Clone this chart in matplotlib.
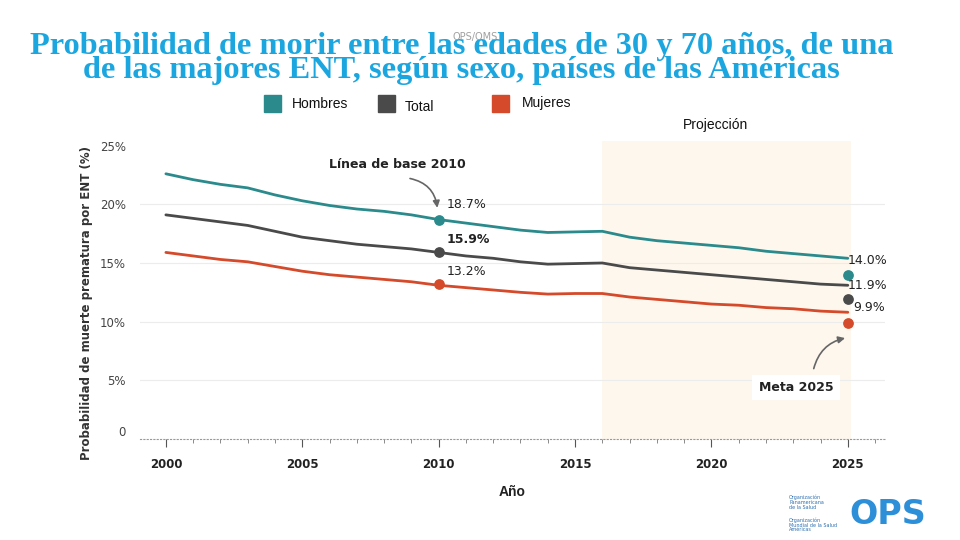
import numpy as np
import matplotlib
matplotlib.use('Agg')
import matplotlib.pyplot as plt
from matplotlib.patches import Rectangle
from matplotlib.ticker import MultipleLocator


# Data
years = list(range(2000, 2026))
hombres = [22.6, 22.1, 21.7, 21.4, 20.8, 20.3, 19.9, 19.6, 19.4, 19.1, 18.7, 18.4, 18.1,
           17.8, 17.6, 17.65, 17.7, 17.2, 16.9, 16.7, 16.5, 16.3, 16.0, 15.8, 15.6, 15.4]
total = [19.1, 18.8, 18.5, 18.2, 17.7, 17.2, 16.9, 16.6, 16.4, 16.2, 15.9, 15.6, 15.4,
         15.1, 14.9, 14.95, 15.0, 14.6, 14.4, 14.2, 14.0, 13.8, 13.6, 13.4, 13.2, 13.1]
mujeres = [15.9, 15.6, 15.3, 15.1, 14.7, 14.3, 14.0, 13.8, 13.6, 13.4, 13.1, 12.9, 12.7,
           12.5, 12.35, 12.4, 12.4, 12.1, 11.9, 11.7, 11.5, 11.4, 11.2, 11.1, 10.9, 10.8]

base_year = 2010
base_vals = [18.7, 15.9, 13.2]      # hombres, total, mujeres
meta_year = 2025
meta_vals = [14.0, 11.9, 9.9]
proj_start, proj_end = 2016, 2025.1

series_names = ['Hombres', 'Total', 'Mujeres']
colors = ['#2b8a8c', '#4a4a4a', '#d44a2a']

narrow = ['Liberation Sans Narrow', 'Liberation Sans']

# Figure
fig = plt.figure(figsize=(9.6, 5.4), dpi=100)
fig.patch.set_facecolor('white')
ax = fig.add_axes([0.1458, 0.187, 0.776, 0.552])

ax.axvspan(proj_start, proj_end, color='#fdf7ee', zorder=0, lw=0)

for vals, c in zip([hombres, total, mujeres], colors):
    ax.plot(years, vals, color=c, lw=2, zorder=3, solid_capstyle='round')

# baseline dots and target dots
for v, c in zip(base_vals, colors):
    ax.scatter([base_year], [v], s=45, color=c, zorder=4)
for v, c in zip(meta_vals, colors):
    ax.scatter([meta_year], [v], s=45, color=c, zorder=4)

# value labels
base_offsets = [1.3, 1.1, 1.1]
for v, off, w in zip(base_vals, base_offsets, ['normal', 'bold', 'normal']):
    ax.text(base_year + 0.3, v + off, f'{v:.1f}%', fontsize=9, color='#222',
            fontweight=w, va='center', ha='left', zorder=5)
meta_offsets = [1.2, 1.2, 1.3]
meta_dx = [0.0, 0.0, 0.2]
for v, off, dx in zip(meta_vals, meta_offsets, meta_dx):
    ax.text(meta_year + dx, v + off, f'{v:.1f}%', fontsize=9, color='#222',
            va='center', ha='left', zorder=5)

# annotations
ax.text(2008.5, 23.4, 'Línea de base 2010', fontsize=9, fontweight='bold',
        color='#222', ha='center', va='center', zorder=5)
ax.annotate('', xy=(2009.95, 19.7), xytext=(2008.95, 22.2),
            arrowprops=dict(arrowstyle='-|>', color='#666', lw=1.2,
                            connectionstyle='arc3,rad=-0.35',
                            shrinkA=0, shrinkB=0), zorder=5)
ax.text(2023.1, 4.4, 'Meta 2025', fontsize=9, fontweight='bold', color='#222',
        ha='center', va='center', zorder=5,
        bbox=dict(boxstyle='square,pad=0.5', fc='white', ec='none'))
ax.annotate('', xy=(2024.9, 8.6), xytext=(2023.75, 6.0),
            arrowprops=dict(arrowstyle='-|>', color='#666', lw=1.2,
                            connectionstyle='arc3,rad=-0.3',
                            shrinkA=0, shrinkB=0), zorder=5)

# axes formatting
ax.set_xlim(1999.05, 2026.36)
ax.set_ylim(0, 25.4)
ax.set_facecolor('none')
for s in ['top', 'right', 'left']:
    ax.spines[s].set_visible(False)
ax.spines['bottom'].set_linestyle((0, (1, 2)))
ax.spines['bottom'].set_color('#999')
ax.spines['bottom'].set_linewidth(0.8)

yt = [0, 5, 10, 15, 20, 25]
ax.set_yticks(yt)
ax.set_yticklabels(['0'] + [f'{t}%' for t in yt[1:]])
for t in yt[1:-1]:
    ax.axhline(t, color='#ececec', lw=0.8, zorder=1)
ax.tick_params(axis='y', length=0, pad=10, labelsize=8.5, labelcolor='#444')
ax.get_yticklabels()[0].set_va('bottom')

ax.xaxis.set_major_locator(MultipleLocator(5))
ax.xaxis.set_minor_locator(MultipleLocator(1))
ax.tick_params(axis='x', which='major', length=6, color='#555', pad=8,
               labelsize=8.5, labelcolor='#222')
ax.tick_params(axis='x', which='minor', length=3, color='#777')
for lab in ax.get_xticklabels():
    lab.set_fontweight('bold')

ax.set_xlabel('Año', fontsize=10, fontweight='bold', color='#222', labelpad=10,
              family=narrow)
fig.text(0.0906, 0.439, 'Probabilidad de muerte prematura por ENT (%)', rotation=90,
         fontsize=8.5, fontweight='bold', color='#333', ha='center', va='center')

# title (one text object, two lines)
fig.text(0.481, 0.891,
         'Probabilidad de morir entre las edades de 30 y 70 años, de una\n'
         'de las majores ENT, según sexo, países de las Américas',
         fontsize=23.3, fontweight='bold', color='#1ba6e0', ha='center', va='center',
         multialignment='center', linespacing=0.78, family='Liberation Serif')
fig.text(0.495, 0.931, 'OPS/OMS', fontsize=7, color='#a0a0a0', ha='center', va='center')

# legend
legend_x = [264, 378, 492]
label_x = [292, 405, 522]
label_y = [104, 107, 103]
for name, c, sx, lx, ly in zip(series_names, colors, legend_x, label_x, label_y):
    fig.patches.append(Rectangle((sx / 960, 1 - 112 / 540), 17 / 960, 17 / 540,
                                 transform=fig.transFigure, color=c))
    fig.text(lx / 960, 1 - ly / 540, name, fontsize=10, color='#111', ha='left',
             va='center', family=narrow)
fig.text(716 / 960, 1 - 125 / 540, 'Projección', fontsize=10, color='#111',
         ha='center', va='center', family=narrow)

# logo
fig.text(0.965, 0.048, 'OPS', fontsize=24, fontweight='black', color='#2d8fd8',
         ha='right', va='center')
fig.text(0.822, 0.070, 'Organización\nPanamericana\nde la Salud', fontsize=3.5,
         color='#2d6fb0', ha='left', va='center', linespacing=0.9)
fig.text(0.822, 0.028, 'Organización\nMundial de la Salud\nAméricas', fontsize=3.5,
         color='#2d6fb0', ha='left', va='center', linespacing=0.9)

fig.savefig('out.png', dpi=100)
